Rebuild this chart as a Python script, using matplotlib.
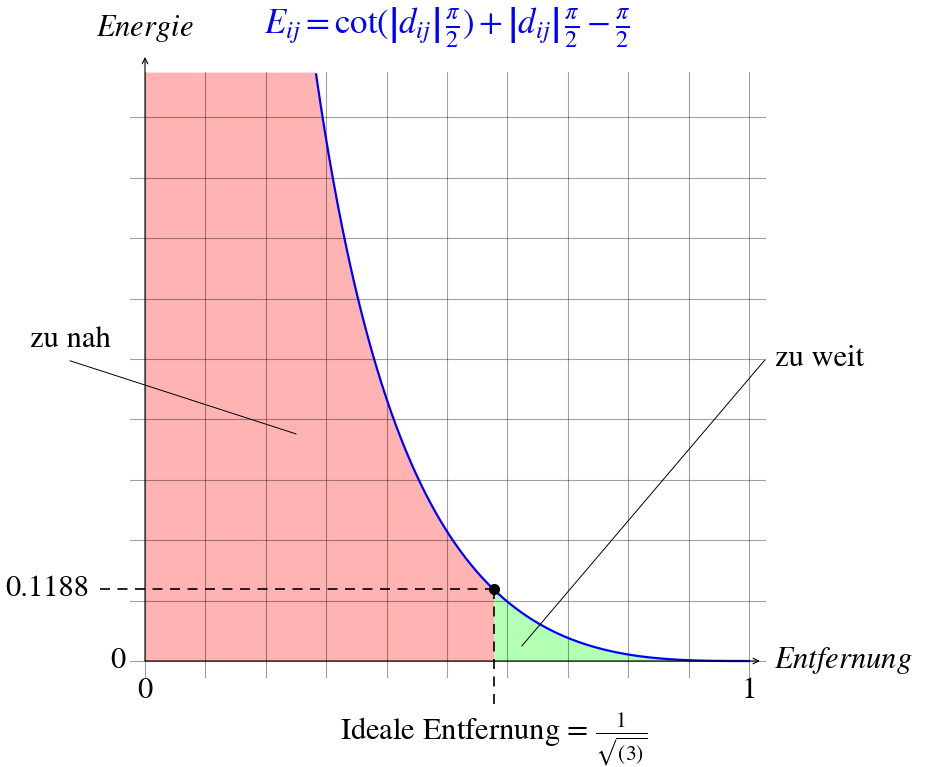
import numpy as np
import matplotlib.pyplot as plt

plt.rcParams["mathtext.fontset"] = "stix"
plt.rcParams["font.family"] = ["STIXGeneral", "DejaVu Serif"]

# ideal distance and its energy
d_ideal = 1 / np.sqrt(3)
e_ideal = 0.1188

x_ticks = [0, 1]
x_tick_labels = ["0", "1"]
y_ticks = [0, e_ideal]
y_tick_labels = ["0", "0.1188"]

grid_x = np.round(np.arange(0, 1.01, 0.1), 2)
grid_y = np.round(np.arange(0, 0.91, 0.1), 2)
y_top = 0.975


def energy(d):
    return 1 / np.tan(d * np.pi / 2) + d * np.pi / 2 - np.pi / 2


fig = plt.figure(figsize=(9.29, 7.67), dpi=100)
ax = fig.add_axes([0, 0, 1, 1])
ax.set_xlim(-145 / 604, 784 / 604)
ax.set_ylim(-106 / 604, 661 / 604)
ax.axis("off")

# shaded regions
d_near = np.linspace(1e-4, d_ideal, 600)
ax.fill_between(d_near, 0, np.minimum(energy(d_near), y_top),
                color=(1, 0.7, 0.7), lw=0, zorder=1)
d_far = np.linspace(d_ideal, 1, 300)
ax.fill_between(d_far, 0, energy(d_far), color=(0.7, 1, 0.7), lw=0, zorder=1)

# help lines
for gx in grid_x:
    ax.plot([gx, gx], [-0.027, y_top], color="black", alpha=0.37, lw=0.8, zorder=2)
for gy in grid_y:
    ax.plot([-0.025, 1.027], [gy, gy], color="black", alpha=0.37, lw=0.8, zorder=2)

# energy curve
d_all = np.linspace(0.2, 1, 1000)
e_all = energy(d_all)
keep = e_all <= y_top
ax.plot(d_all[keep], e_all[keep], color="blue", lw=1.6, zorder=4)

# axes
ax.annotate("", xy=(1.018, 0), xytext=(0, 0),
            arrowprops=dict(arrowstyle="->", color="black", lw=0.8,
                            shrinkA=0, shrinkB=0), zorder=5)
ax.annotate("", xy=(0, 1.0), xytext=(0, 0),
            arrowprops=dict(arrowstyle="->", color="black", lw=0.8,
                            shrinkA=0, shrinkB=0), zorder=5)

# ideal point with guide lines
ax.plot([-0.075, d_ideal], [e_ideal, e_ideal], color="black", lw=1.2,
        dashes=(6, 4.5), zorder=5)
ax.plot([d_ideal, d_ideal], [e_ideal, -0.076], color="black", lw=1.2,
        dashes=(6, 4.5), zorder=5)
ax.plot([d_ideal], [e_ideal], "o", color="black", ms=7, zorder=6)

fs = 22
for xt, lab in zip(x_ticks, x_tick_labels):
    ax.text(xt, -0.05, lab, ha="center", va="center", fontsize=fs)
ax.text(-0.033, y_ticks[0], y_tick_labels[0], ha="right", va="center", fontsize=fs)
ax.text(-0.093, y_ticks[1], y_tick_labels[1], ha="right", va="center", fontsize=fs)

ax.text(0, 1.048, r"$Energie$", ha="center", va="center", fontsize=fs)
ax.text(1.042, 0, r"$Entfernung$", ha="left", va="center", fontsize=fs)
ax.text(0.5, 1.048,
        r"$E_{ij} = \cot(\left|d_{ij}\right|\,\frac{\pi}{2}) + "
        r"\left|d_{ij}\right|\,\frac{\pi}{2} - \frac{\pi}{2}$",
        ha="center", va="center", fontsize=25, color="blue")
ax.text(d_ideal, -0.13, r"Ideale Entfernung = $\frac{1}{\sqrt{(3)}}$",
        ha="center", va="center", fontsize=fs)

# annotations
ax.plot([-0.124, 0.25], [0.497, 0.376], color="black", lw=0.7, zorder=5)
ax.text(-0.124, 0.532, "zu nah", ha="center", va="center", fontsize=fs)
ax.plot([1.026, 0.624], [0.498, 0.025], color="black", lw=0.7, zorder=5)
ax.text(1.043, 0.5, "zu weit", ha="left", va="center", fontsize=fs)

fig.savefig("out.png", dpi=100)
